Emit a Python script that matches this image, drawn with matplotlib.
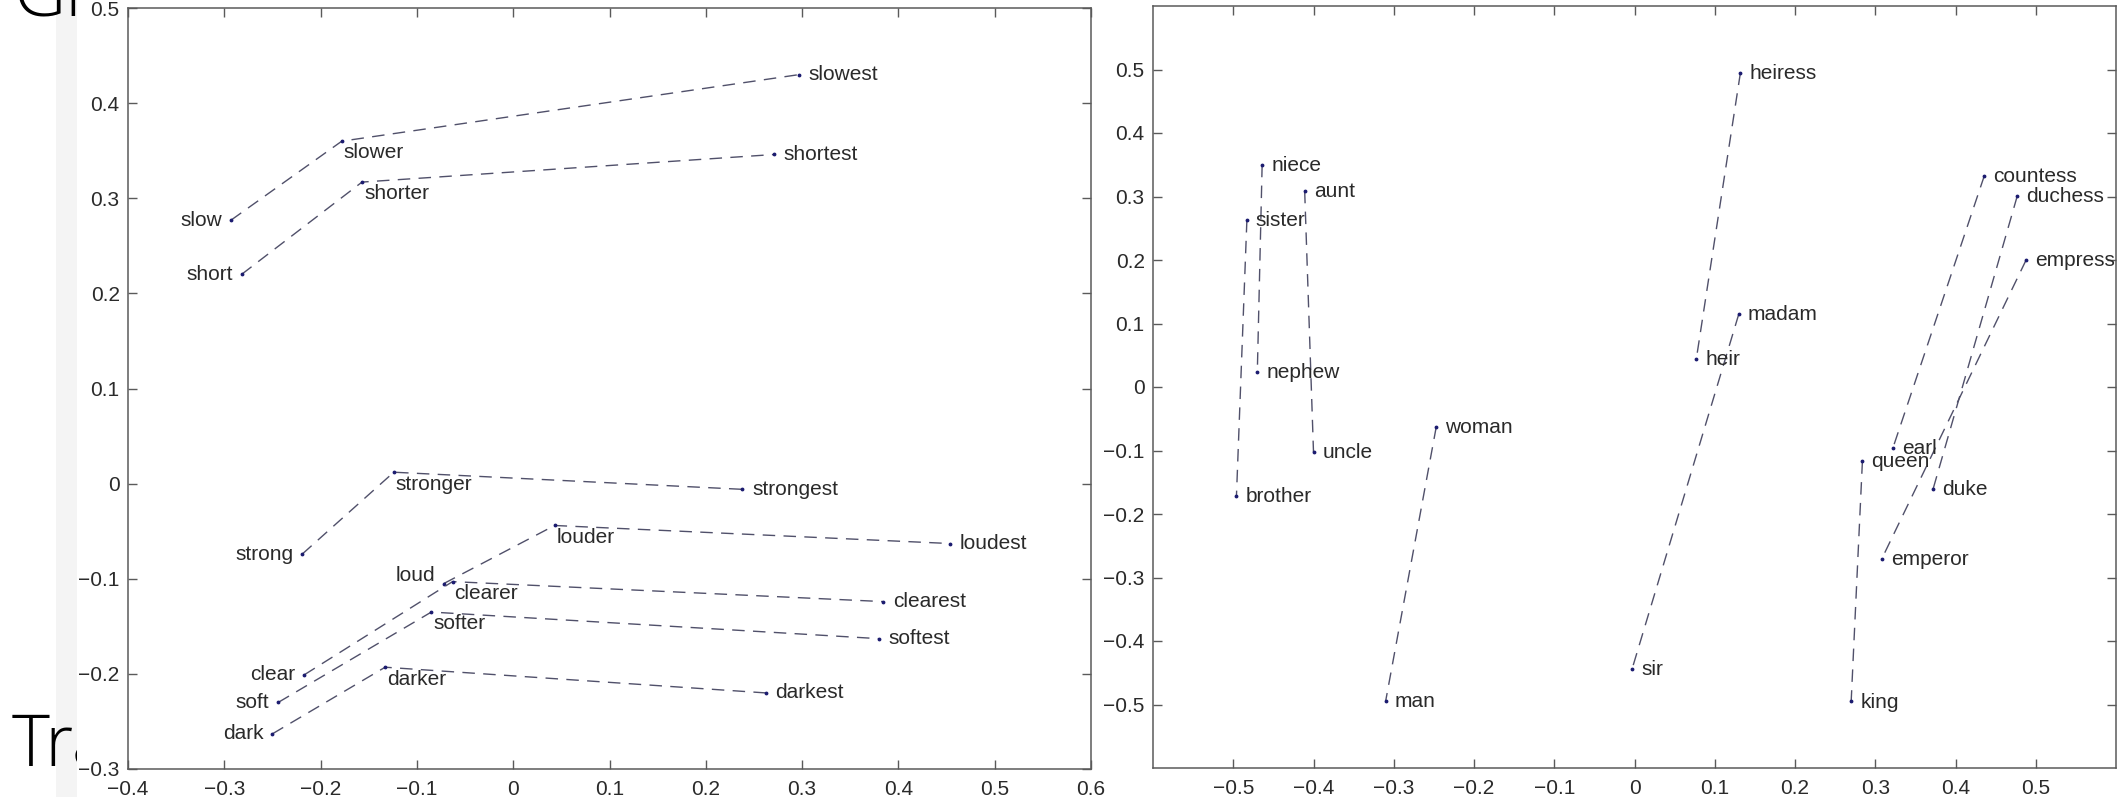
import numpy as np
import matplotlib
matplotlib.use('Agg')
import matplotlib.pyplot as plt
from matplotlib.patches import Rectangle

plt.rcParams['font.family'] = ['Liberation Sans', 'DejaVu Sans']

# ---- left panel: adjective / comparative / superlative ----
base_words = ['slow', 'short', 'strong', 'loud', 'clear', 'soft', 'dark']
base_x = [-0.293, -0.282, -0.219, -0.072, -0.217, -0.244, -0.250]
base_y = [0.277, 0.220, -0.074, -0.105, -0.201, -0.230, -0.263]

comp_words = ['slower', 'shorter', 'stronger', 'louder', 'clearer', 'softer', 'darker']
comp_x = [-0.178, -0.157, -0.124, 0.043, -0.063, -0.085, -0.133]
comp_y = [0.360, 0.317, 0.012, -0.044, -0.103, -0.135, -0.193]

sup_words = ['slowest', 'shortest', 'strongest', 'loudest', 'clearest', 'softest', 'darkest']
sup_x = [0.297, 0.271, 0.238, 0.454, 0.384, 0.380, 0.262]
sup_y = [0.430, 0.346, -0.006, -0.063, -0.124, -0.163, -0.220]

left_xticks = [-0.4, -0.3, -0.2, -0.1, 0, 0.1, 0.2, 0.3, 0.4, 0.5, 0.6]
left_xlabels = ['\u22120.4', '\u22120.3', '\u22120.2', '\u22120.1', '0', '0.1', '0.2', '0.3', '0.4', '0.5', '0.6']
left_yticks = [-0.3, -0.2, -0.1, 0, 0.1, 0.2, 0.3, 0.4, 0.5]
left_ylabels = ['\u22120.3', '\u22120.2', '\u22120.1', '0', '0.1', '0.2', '0.3', '0.4', '0.5']

# ---- right panel: female / male pairs ----
fem_words = ['niece', 'aunt', 'sister', 'woman', 'heiress', 'madam', 'countess', 'duchess', 'empress', 'queen']
fem_x = [-0.464, -0.411, -0.483, -0.247, 0.132, 0.130, 0.436, 0.477, 0.488, 0.284]
fem_y = [0.350, 0.309, 0.263, -0.0625, 0.495, 0.115, 0.333, 0.301, 0.200, -0.117]

male_words = ['nephew', 'uncle', 'brother', 'man', 'heir', 'sir', 'earl', 'duke', 'emperor', 'king']
male_x = [-0.470, -0.400, -0.496, -0.310, 0.077, -0.003, 0.322, 0.372, 0.308, 0.270]
male_y = [0.024, -0.1025, -0.171, -0.494, 0.044, -0.444, -0.096, -0.161, -0.271, -0.495]

right_ticks = [-0.5, -0.4, -0.3, -0.2, -0.1, 0, 0.1, 0.2, 0.3, 0.4, 0.5]
right_labels = ['\u22120.5', '\u22120.4', '\u22120.3', '\u22120.2', '\u22120.1', '0', '0.1', '0.2', '0.3', '0.4', '0.5']

line_col = '#50506a'
dot_col = '#1c1c70'
txt_col = '#2a2a2a'
fs = 15
dash = (0, (9, 6))

W, H = 2126, 797
fig = plt.figure(figsize=(W / 100, H / 100), dpi=100)
fig.patch.set_facecolor('white')

# slide behind the pasted picture: faint shadow band, then slide text, then the picture
fig.patches.append(Rectangle((56 / W, 0), 21 / W, 1, transform=fig.transFigure,
                             facecolor='#f4f4f4', edgecolor='none', zorder=-3))
slide_font = ['Open Sans', 'Lato', 'DejaVu Sans']
fig.text(13 / W, 1 - 15 / H, 'Gr', fontsize=52, family=slide_font,
         fontweight='light', color='black', va='baseline', zorder=-2)
fig.text(12 / W, (H - 766) / H, 'Tra', fontsize=52, family=slide_font,
         fontweight='light', color='black', va='baseline', zorder=-2)
fig.patches.append(Rectangle((77 / W, 0), 1 - 77 / W, 1, transform=fig.transFigure,
                             facecolor='white', edgecolor='none', zorder=-1))


def style(ax):
    for s in ax.spines.values():
        s.set_color('#5a5a5a')
        s.set_linewidth(1.1)
    ax.tick_params(direction='in', length=6.5, width=1, colors='#5a5a5a',
                   labelcolor=txt_col, labelsize=fs, top=True, right=True)
    ax.tick_params(axis='x', pad=8)
    ax.tick_params(axis='y', pad=6)


# left
ax1 = fig.add_axes([128 / W, (H - 769) / H, 963 / W, 761 / H])
for i in range(len(base_words)):
    xs = [base_x[i], comp_x[i], sup_x[i]]
    ys = [base_y[i], comp_y[i], sup_y[i]]
    ax1.plot(xs, ys, linestyle=dash, color=line_col, linewidth=1.0)
    ax1.plot(xs, ys, linestyle='none', marker='.', markersize=3.5, color=dot_col)
    dy = 6 if base_words[i] == 'loud' else 0
    ax1.annotate(base_words[i], (base_x[i], base_y[i]), xytext=(-6.5, dy),
                 textcoords='offset points', ha='right', va='center', fontsize=fs, color=txt_col)
    ax1.annotate(comp_words[i], (comp_x[i], comp_y[i]), xytext=(1.5, -8.5),
                 textcoords='offset points', ha='left', va='center', fontsize=fs, color=txt_col)
    ax1.annotate(sup_words[i], (sup_x[i], sup_y[i]), xytext=(7, 0),
                 textcoords='offset points', ha='left', va='center', fontsize=fs, color=txt_col)
ax1.set_xlim(-0.4, 0.6)
ax1.set_ylim(-0.3, 0.5)
ax1.set_xticks(left_xticks)
ax1.set_xticklabels(left_xlabels)
ax1.set_yticks(left_yticks)
ax1.set_yticklabels(left_ylabels)
style(ax1)

# right
ax2 = fig.add_axes([1153 / W, (H - 768) / H, 963 / W, 762 / H])
for i in range(len(fem_words)):
    xs = [fem_x[i], male_x[i]]
    ys = [fem_y[i], male_y[i]]
    ax2.plot(xs, ys, linestyle=dash, color=line_col, linewidth=1.0)
    ax2.plot(xs, ys, linestyle='none', marker='.', markersize=3.5, color=dot_col)
    ax2.annotate(fem_words[i], (fem_x[i], fem_y[i]), xytext=(6.5, -0.5),
                 textcoords='offset points', ha='left', va='center', fontsize=fs, color=txt_col)
    ax2.annotate(male_words[i], (male_x[i], male_y[i]), xytext=(6.5, -0.5),
                 textcoords='offset points', ha='left', va='center', fontsize=fs, color=txt_col)
ax2.set_xlim(-0.6, 0.6)
ax2.set_ylim(-0.6, 0.6)
ax2.set_xticks(right_ticks)
ax2.set_xticklabels(right_labels)
ax2.set_yticks(right_ticks)
ax2.set_yticklabels(right_labels)
style(ax2)

fig.savefig('out.png', dpi=100)
